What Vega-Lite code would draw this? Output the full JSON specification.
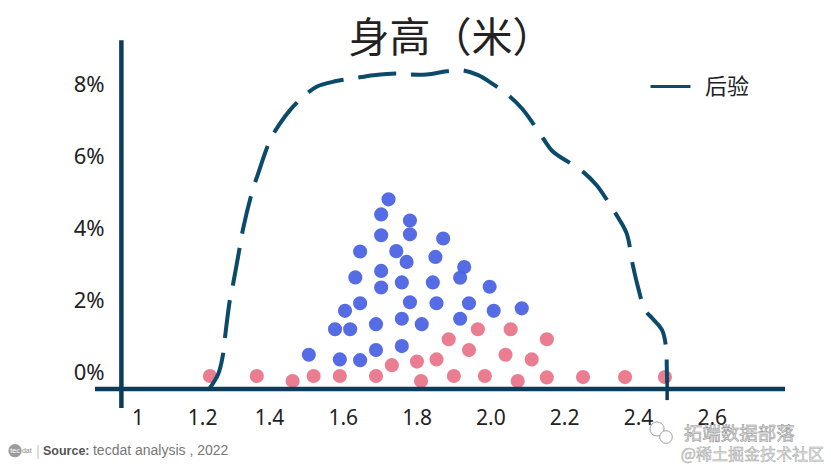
{
  "$schema": "https://vega.github.io/schema/vega-lite/v6.json",
  "autosize": {"type": "none"},
  "width": 690,
  "height": 367,
  "padding": {"left": 95, "top": 41, "right": 46, "bottom": 60},
  "background": "#ffffff",
  "config": {"view": {"stroke": null}, "axis": {"grid": false}},
  "title": {"text": "身高（米）", "font": "Noto Sans CJK SC", "fontSize": 41, "fontWeight": "normal", "color": "#222222", "anchor": "middle", "frame": "group", "baseline": "middle", "offset": 0, "dy": 43, "dx": 11},
  "datasets": {
    "posterior": [
      {"x": 1.240, "y": -0.44}, {"x": 1.263, "y": -0.04}, {"x": 1.276, "y": 0.52}, {"x": 1.281, "y": 0.98},
      {"x": 1.294, "y": 2.0}, {"x": 1.303, "y": 2.46}, {"x": 1.321, "y": 3.48}, {"x": 1.330, "y": 3.99},
      {"x": 1.353, "y": 4.96}, {"x": 1.371, "y": 5.53}, {"x": 1.403, "y": 6.44}, {"x": 1.430, "y": 6.91},
      {"x": 1.457, "y": 7.28}, {"x": 1.493, "y": 7.65}, {"x": 1.529, "y": 7.93}, {"x": 1.579, "y": 8.08},
      {"x": 1.628, "y": 8.16}, {"x": 1.683, "y": 8.25}, {"x": 1.746, "y": 8.30}, {"x": 1.778, "y": 8.27},
      {"x": 1.827, "y": 8.27}, {"x": 1.882, "y": 8.36}, {"x": 1.922, "y": 8.39}, {"x": 1.967, "y": 8.25},
      {"x": 2.007, "y": 8.0}, {"x": 2.049, "y": 7.69}, {"x": 2.085, "y": 7.33}, {"x": 2.115, "y": 6.92},
      {"x": 2.143, "y": 6.49}, {"x": 2.170, "y": 6.12}, {"x": 2.211, "y": 5.84}, {"x": 2.256, "y": 5.52},
      {"x": 2.288, "y": 5.19}, {"x": 2.316, "y": 4.78}, {"x": 2.342, "y": 4.36}, {"x": 2.369, "y": 3.86},
      {"x": 2.386, "y": 2.97}, {"x": 2.400, "y": 2.36}, {"x": 2.419, "y": 1.72}, {"x": 2.438, "y": 1.50},
      {"x": 2.465, "y": 1.17}, {"x": 2.476, "y": 0.69}, {"x": 2.478, "y": 0.14}, {"x": 2.479, "y": -0.28}
    ],
    "points": [
      {"x": 1.724, "y": 4.80, "g": "blue"}, {"x": 1.704, "y": 4.38, "g": "blue"}, {"x": 1.782, "y": 4.21, "g": "blue"},
      {"x": 1.704, "y": 3.80, "g": "blue"}, {"x": 1.782, "y": 3.83, "g": "blue"}, {"x": 1.872, "y": 3.71, "g": "blue"},
      {"x": 1.647, "y": 3.35, "g": "blue"}, {"x": 1.745, "y": 3.36, "g": "blue"}, {"x": 1.773, "y": 3.06, "g": "blue"},
      {"x": 1.851, "y": 3.20, "g": "blue"}, {"x": 1.929, "y": 2.92, "g": "blue"}, {"x": 1.918, "y": 2.62, "g": "blue"},
      {"x": 1.634, "y": 2.63, "g": "blue"}, {"x": 1.704, "y": 2.81, "g": "blue"}, {"x": 1.704, "y": 2.35, "g": "blue"},
      {"x": 1.760, "y": 2.49, "g": "blue"}, {"x": 1.844, "y": 2.49, "g": "blue"}, {"x": 1.998, "y": 2.37, "g": "blue"},
      {"x": 1.647, "y": 1.91, "g": "blue"}, {"x": 1.606, "y": 1.70, "g": "blue"}, {"x": 1.782, "y": 1.94, "g": "blue"},
      {"x": 1.854, "y": 1.91, "g": "blue"}, {"x": 1.942, "y": 1.91, "g": "blue"}, {"x": 2.009, "y": 1.70, "g": "blue"},
      {"x": 2.085, "y": 1.77, "g": "blue"}, {"x": 1.579, "y": 1.19, "g": "blue"}, {"x": 1.620, "y": 1.19, "g": "blue"},
      {"x": 1.690, "y": 1.33, "g": "blue"}, {"x": 1.760, "y": 1.48, "g": "blue"}, {"x": 1.814, "y": 1.33, "g": "blue"},
      {"x": 1.918, "y": 1.48, "g": "blue"}, {"x": 1.508, "y": 0.48, "g": "blue"}, {"x": 1.592, "y": 0.35, "g": "blue"},
      {"x": 1.647, "y": 0.33, "g": "blue"}, {"x": 1.690, "y": 0.61, "g": "blue"}, {"x": 1.760, "y": 0.72, "g": "blue"},
      {"x": 1.240, "y": -0.11, "g": "pink"}, {"x": 1.367, "y": -0.11, "g": "pink"}, {"x": 1.464, "y": -0.25, "g": "pink"},
      {"x": 1.521, "y": -0.11, "g": "pink"}, {"x": 1.592, "y": -0.11, "g": "pink"}, {"x": 1.690, "y": -0.11, "g": "pink"},
      {"x": 1.733, "y": 0.19, "g": "pink"}, {"x": 1.801, "y": 0.29, "g": "pink"}, {"x": 1.812, "y": -0.25, "g": "pink"},
      {"x": 1.854, "y": 0.35, "g": "pink"}, {"x": 1.887, "y": 0.91, "g": "pink"}, {"x": 1.901, "y": -0.11, "g": "pink"},
      {"x": 1.942, "y": 0.61, "g": "pink"}, {"x": 1.966, "y": 1.19, "g": "pink"}, {"x": 1.985, "y": -0.11, "g": "pink"},
      {"x": 2.041, "y": 0.48, "g": "pink"}, {"x": 2.055, "y": 1.19, "g": "pink"}, {"x": 2.074, "y": -0.25, "g": "pink"},
      {"x": 2.112, "y": 0.35, "g": "pink"}, {"x": 2.153, "y": 0.91, "g": "pink"}, {"x": 2.153, "y": -0.15, "g": "pink"},
      {"x": 2.251, "y": -0.14, "g": "pink"}, {"x": 2.365, "y": -0.14, "g": "pink"}, {"x": 2.473, "y": -0.14, "g": "pink"}
    ],
    "one": [{}]
  },
  "layer": [
    {
      "data": {"name": "points"},
      "mark": {"type": "circle", "size": 200, "opacity": 0.93},
      "encoding": {
        "x": {"field": "x", "type": "quantitative", "scale": {"domain": [0.9285, 2.7984], "nice": false, "zero": false},
              "axis": {"title": null, "domain": false, "ticks": false, "tickSize": 0, "values": [1, 1.2, 1.4, 1.6, 1.8, 2.0, 2.2, 2.4, 2.6],
                       "labelExpr": "datum.value == 1 ? '1' : format(datum.value, '.1f')",
                       "labelFont": "Noto Sans", "labelFontSize": 21, "labelColor": "#222222", "labelPadding": 0, "offset": -1,
                       "labelOffset": {"condition": [{"test": "datum.value == 1", "value": 16}, {"test": "datum.value == 1.2", "value": 7}], "value": 0}}},
        "y": {"field": "y", "type": "quantitative", "scale": {"domain": [-1, 9.2], "nice": false, "zero": false},
              "axis": {"title": null, "domain": false, "ticks": false, "tickSize": 0, "values": [0, 2, 4, 6, 8],
                       "labelExpr": "datum.value + '%'", "labelFont": "Noto Sans", "labelFontSize": 22, "labelColor": "#222222",
                       "labelPadding": 2, "offset": -11}},
        "fill": {"field": "g", "type": "nominal", "scale": {"domain": ["blue", "pink"], "range": ["#4861e2", "#ea7389"]}, "legend": null}
      }
    },
    {
      "data": {"name": "posterior"},
      "mark": {"type": "line", "strokeWidth": 4, "strokeDash": [38, 15], "interpolate": "catmull-rom", "strokeCap": "butt"},
      "encoding": {
        "x": {"field": "x", "type": "quantitative"},
        "y": {"field": "y", "type": "quantitative"},
        "stroke": {"datum": "后验", "type": "nominal", "scale": {"range": ["#0c4a6c"]},
                   "legend": {"title": null, "orient": "none", "legendX": 554, "legendY": 24, "symbolType": "stroke", "symbolSize": 1600,
                              "symbolStrokeWidth": 3, "symbolDash": [1, 0], "labelFont": "Noto Sans CJK SC", "labelFontSize": 22,
                              "labelColor": "#222222", "labelOffset": 13}}
      }
    },
    {
      "data": {"name": "one"},
      "mark": {"type": "rule", "strokeWidth": 4.5, "color": "#0d3c5a"},
      "encoding": {"x": {"datum": 1}, "y": {"datum": -1}, "y2": {"datum": 9.22}}
    },
    {
      "data": {"name": "one"},
      "mark": {"type": "rule", "strokeWidth": 4.5, "color": "#0d3c5a"},
      "encoding": {"x": {"datum": 0.9285}, "x2": {"datum": 2.7984}, "y": {"datum": -0.47}}
    },
    {
      "data": {"name": "one"},
      "mark": {"type": "rule", "strokeWidth": 3.5, "color": "#0d3c5a"},
      "encoding": {"x": {"datum": 2.479}, "y": {"datum": -0.78}, "y2": {"datum": -0.25}}
    },
    {
      "data": {"name": "one"},
      "mark": {"type": "circle", "size": 177, "color": "#9b9b9b", "opacity": 1},
      "encoding": {"x": {"datum": 0.7117}, "y": {"datum": -2.186}}
    },
    {
      "data": {"name": "one"},
      "mark": {"type": "text", "fontSize": 7, "font": "Liberation Sans", "color": "#ffffff", "align": "center", "baseline": "middle"},
      "encoding": {"x": {"datum": 0.7117}, "y": {"datum": -2.186}, "text": {"value": "tec"}}
    },
    {
      "data": {"name": "one"},
      "mark": {"type": "text", "fontSize": 7, "font": "Liberation Sans", "color": "#8a8a8a", "align": "left", "baseline": "middle"},
      "encoding": {"x": {"datum": 0.7306}, "y": {"datum": -2.186}, "text": {"value": "dat"}}
    },
    {
      "data": {"name": "one"},
      "mark": {"type": "text", "fontSize": 15, "font": "Liberation Sans", "color": "#cccccc", "align": "center", "baseline": "middle"},
      "encoding": {"x": {"datum": 0.774}, "y": {"datum": -2.186}, "text": {"value": "|"}}
    },
    {
      "data": {"name": "one"},
      "mark": {"type": "text", "fontSize": 12.5, "font": "Liberation Sans", "fontWeight": "bold", "color": "#555555", "align": "left", "baseline": "middle"},
      "encoding": {"x": {"datum": 0.7875}, "y": {"datum": -2.186}, "text": {"value": "Source:"}}
    },
    {
      "data": {"name": "one"},
      "mark": {"type": "text", "fontSize": 14, "font": "Liberation Sans", "color": "#777777", "align": "left", "baseline": "middle"},
      "encoding": {"x": {"datum": 0.923}, "y": {"datum": -2.186}, "text": {"value": "tecdat analysis , 2022"}}
    },
    {
      "data": {"name": "one"},
      "mark": {"type": "point", "size": 200, "filled": false, "stroke": "#a0a0a0", "strokeWidth": 1, "fill": "#ffffff", "fillOpacity": 1},
      "encoding": {"x": {"datum": 2.4515}, "y": {"datum": -1.583}}
    },
    {
      "data": {"name": "one"},
      "mark": {"type": "point", "size": 160, "filled": false, "stroke": "#a0a0a0", "strokeWidth": 1, "fill": "#ffffff", "fillOpacity": 1},
      "encoding": {"x": {"datum": 2.4759}, "y": {"datum": -1.806}}
    },
    {
      "data": {"name": "one"},
      "mark": {"type": "text", "fontSize": 18.5, "font": "Noto Sans CJK SC", "fill": "#e4e4e4", "stroke": "#8c8c8c", "strokeWidth": 0.5, "align": "left", "baseline": "middle"},
      "encoding": {"x": {"datum": 2.524}, "y": {"datum": -1.722}, "text": {"value": "拓端数据部落"}}
    },
    {
      "data": {"name": "one"},
      "mark": {"type": "text", "fontSize": 16, "font": "Noto Sans CJK SC", "fill": "#e6e6e6", "stroke": "#a8a8a8", "strokeWidth": 0.5, "align": "right", "baseline": "middle"},
      "encoding": {"x": {"datum": 2.904}, "y": {"datum": -2.306}, "text": {"value": "@稀土掘金技术社区"}}
    }
  ]
}
